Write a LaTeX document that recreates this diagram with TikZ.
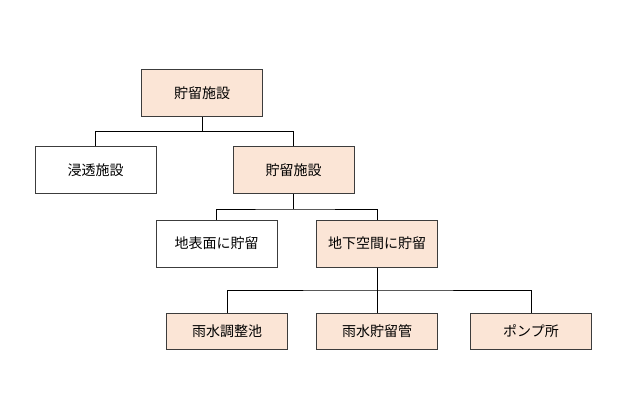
\documentclass[tikz,border=0pt]{standalone}
\usepackage{fontspec}
\newfontfamily\jpfont{Noto Sans CJK JP}
\definecolor{boxfill}{HTML}{FBE5D6}
\definecolor{boxline}{HTML}{3C3C3C}
\tikzset{
  cat/.style={draw=boxline, line width=1pt, minimum width=121pt, minimum height=47pt,
    inner sep=0pt, font=\jpfont\fontsize{14}{16}\selectfont},
  hi/.style={cat, fill=boxfill},
  leaf/.style={hi, minimum height=36pt},
  link/.style={draw=black, line width=0.9pt},
}
\begin{document}
\begin{tikzpicture}[x=1pt,y=-1pt]
\useasboundingbox (0,0) rectangle (630,420);

\node[hi] (root) at (202,93.5) {貯留施設};

\node[cat] (infil) at (95.5,170) {浸透施設};
\node[hi] (store) at (293.5,170) {貯留施設};

\node[cat] (surf) at (216.5,243.5) {地表面に貯留};
\node[hi] (under) at (377,243.5) {地下空間に貯留};

\node[leaf] (pond) at (227,331) {雨水調整池};
\node[leaf] (pipe) at (377,331) {雨水貯留管};
\node[leaf] (pump) at (531,331) {ポンプ所};

% tree links
\draw[link] (root.south) -- ++(0,14) coordinate (bus1);
\draw[link] (infil.north) |- (bus1) -| (store.north);

\draw[link] (store.south) -- ++(0,15) coordinate (bus2);
\draw[link] (surf.north) |- (bus2) -| (under.north);

\draw[link] (under.south) -- (pipe.north);
\draw[link] (pond.north) |- (under.south |- 0,290) -| (pump.north);
\end{tikzpicture}
\end{document}
